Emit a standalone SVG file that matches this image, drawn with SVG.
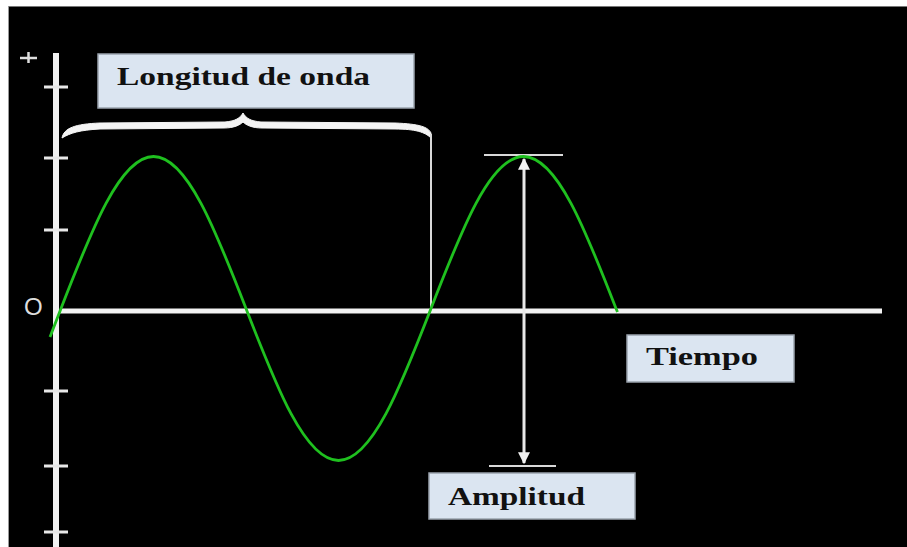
<svg xmlns="http://www.w3.org/2000/svg" width="907" height="547" viewBox="0 0 907 547">
<defs>
<style>
.axis{stroke:#f2f2f2;fill:none;stroke-linecap:butt}
.tick{stroke:#e8e8e8;stroke-width:3}
.thin{stroke:#d9d9d9;stroke-width:2;fill:none}
.box{fill:#dbe5f1;stroke:#9aa3ad;stroke-width:1.5}
.lbl{font-family:"Liberation Serif","Times New Roman",serif;font-weight:bold;font-size:25px;fill:#111}
.wave{stroke:#1fc01f;stroke-width:2.8;fill:none;stroke-linejoin:round}
</style>
<marker id="ah" viewBox="0 0 10 10" refX="9" refY="5" markerWidth="4" markerHeight="4" orient="auto-start-reverse">
<path d="M0,0 L10,5 L0,10 Z" fill="#f2f2f2"/>
</marker>
</defs>
<rect x="0" y="0" width="907" height="547" fill="#ffffff"/>
<rect x="8" y="6" width="899" height="541" fill="#000000"/>
<line x1="8" y1="6.5" x2="907" y2="6.5" stroke="#777777" stroke-width="1"/>
<line x1="8.5" y1="6" x2="8.5" y2="547" stroke="#999999" stroke-width="1"/>
<g id="axes">
<line class="axis" x1="56" y1="53" x2="56" y2="547" stroke-width="6"/>
<line class="axis" x1="60" y1="311" x2="882" y2="311" stroke-width="5"/>
<line class="tick" x1="44" y1="87" x2="68" y2="87"/>
<line class="tick" x1="44" y1="158" x2="68" y2="158"/>
<line class="tick" x1="44" y1="230" x2="68" y2="230"/>
<line class="tick" x1="44" y1="391" x2="68" y2="391"/>
<line class="tick" x1="44" y1="466" x2="68" y2="466"/>
<line class="tick" x1="44" y1="532" x2="68" y2="532"/>
<path d="M20,58 H37 M28.5,52 V63" stroke="#dddddd" stroke-width="2.5"/>
<text x="24" y="315" font-family="Liberation Sans, Arial, sans-serif" font-size="24" fill="#dddddd">O</text>
</g>
<g id="connectors">
<path d="M62,138 C64,128 75,124 100,123 L225,122 C236,121 240,118 243,113 C246,118 250,121 261,122 L395,123 C420,124 428,127 431,133 L431,138 C425,132 415,129 395,129 L262,128 C252,128 246,125 243,122 C240,125 234,128 224,128 L100,129 C80,130 70,133 62,138 Z" fill="#f4f4f4" stroke="#f4f4f4" stroke-width="1"/>
<line class="thin" x1="431" y1="134" x2="431" y2="311"/>
<line class="thin" x1="484" y1="155" x2="563" y2="155"/>
<line class="thin" x1="489" y1="466" x2="556" y2="466"/>
<line x1="524" y1="159" x2="524" y2="463" stroke="#e8e8e8" stroke-width="3" marker-start="url(#ah)" marker-end="url(#ah)"/>
</g>
<g id="wave">
<path class="wave" d="M50,337 L61,308.5 C91.17,230.63 120.03,156.5 153.5,156.5 C186.97,156.5 215.83,230.63 246,308.5 C276.17,386.37 305.03,460.5 338.5,460.5 C371.97,460.5 400.83,386.37 431,308.5 C461.17,230.63 490.03,156.5 523.5,156.5 C556.97,156.5 585.83,230.63 616,308.5 L617.5,312"/>
</g>
<g id="label-longitud">
<rect class="box" x="98" y="54" width="316" height="54"/>
<text class="lbl" x="117" y="85" textLength="253" lengthAdjust="spacingAndGlyphs">Longitud de onda</text>
</g>
<g id="label-tiempo">
<rect class="box" x="627" y="335" width="167" height="47"/>
<text class="lbl" x="646" y="365" textLength="112" lengthAdjust="spacingAndGlyphs">Tiempo</text>
</g>
<g id="label-amplitud">
<rect class="box" x="429" y="473" width="206" height="46"/>
<text class="lbl" x="448" y="505" textLength="137" lengthAdjust="spacingAndGlyphs">Amplitud</text>
</g>
</svg>
